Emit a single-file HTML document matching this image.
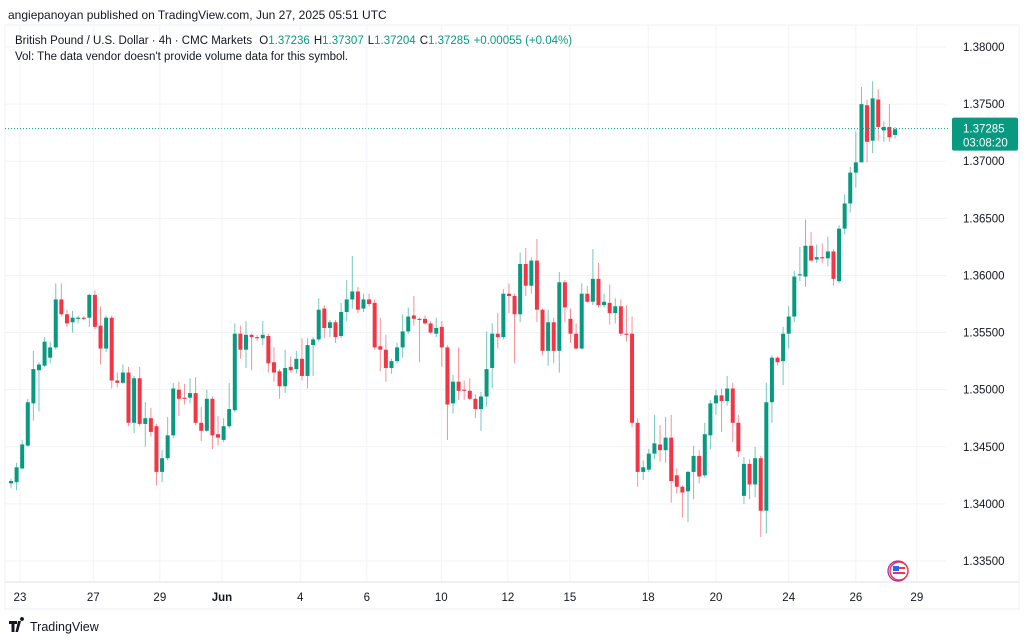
<!DOCTYPE html>
<html><head><meta charset="utf-8"><style>
html,body{margin:0;padding:0;background:#fff;}
svg{display:block;font-family:"Liberation Sans",sans-serif;}
</style></head><body>
<svg id="chart" width="1024" height="642" viewBox="0 0 1024 642">
  <text x="8" y="19" font-size="12" fill="#131722">angiepanoyan published on TradingView.com, Jun 27, 2025 05:51 UTC</text>
  <rect x="5" y="25" width="1014" height="584" fill="none" stroke="#eef0f3"/>
  <g id="grid"></g>
  <g id="candles"></g>
  <g id="axes"></g>
  <text x="15" y="44" font-size="11.5" fill="#131722">British Pound / U.S. Dollar · 4h · CMC Markets <tspan dx="4">O</tspan><tspan fill="#089981">1.37236</tspan><tspan dx="4">H</tspan><tspan fill="#089981">1.37307</tspan><tspan dx="4">L</tspan><tspan fill="#089981">1.37204</tspan><tspan dx="4">C</tspan><tspan fill="#089981">1.37285</tspan><tspan dx="4" fill="#089981">+0.00055 (+0.04%)</tspan></text>
  <text x="15" y="60" font-size="11.5" fill="#131722">Vol: The data vendor doesn't provide volume data for this symbol.</text>
  <g>
    <circle cx="898" cy="571" r="10" fill="#fff" stroke="#9c27b0" stroke-width="1.2"/>
    <circle cx="899" cy="571" r="9" fill="#fff" stroke="#f23645" stroke-width="1.5"/>
    <rect x="893" y="566" width="6" height="5" fill="#2962ff"/>
    <rect x="893" y="572" width="12" height="2" fill="#f23645"/>
    <rect x="899" y="567" width="6" height="2" fill="#f23645"/>
  </g>
  <g>
    <path d="M9 621h8v3h-2.5v8h-3v-8H9z M18 621h3l-3 11h-2.5z M22 621a2 2 0 1 1 0.01 0z" fill="#131722"/>
    <text x="30" y="631" font-size="12.5" fill="#131722">TradingView</text>
  </g>
</svg>
<script>
const opens=[1.3418,1.3419,1.3431,1.3451,1.3488,1.3517,1.3521,1.3528,1.3537,1.3579,1.3566,1.3559,1.3562,1.3563,1.3563,1.3583,1.3556,1.3536,1.3563,1.3508,1.3506,1.3515,1.3471,1.3510,1.3470,1.3475,1.3468,1.3428,1.3440,1.3460,1.3500,1.3493,1.3493,1.3497,1.3471,1.3464,1.3492,1.3461,1.3456,1.3468,1.3482,1.3549,1.3535,1.3548,1.3546,1.3545,1.3547,1.3524,1.3516,1.3503,1.3520,1.3518,1.3527,1.3512,1.3539,1.3544,1.3571,1.3554,1.3559,1.3547,1.3568,1.3579,1.3586,1.3571,1.3579,1.3576,1.3538,1.3535,1.3519,1.3525,1.3537,1.3551,1.3565,1.3562,1.3562,1.3558,1.3549,1.3555,1.3537,1.3488,1.3507,1.3500,1.3499,1.3492,1.3483,1.3494,1.3519,1.3549,1.3546,1.3584,1.3582,1.3566,1.3610,1.3591,1.3613,1.3570,1.3534,1.3559,1.3534,1.3594,1.3562,1.3549,1.3536,1.3584,1.3577,1.3597,1.3574,1.3576,1.3567,1.3573,1.3549,1.3549,1.3471,1.3428,1.3430,1.3444,1.3452,1.3447,1.3458,1.3425,1.3415,1.3411,1.3428,1.3442,1.3425,1.3460,1.3488,1.3495,1.3490,1.3501,1.3471,1.3407,1.3435,1.3417,1.3440,1.3394,1.3489,1.3528,1.3525,1.3549,1.3564,1.3600,1.3599,1.3626,1.3614,1.3616,1.3615,1.3621,1.3595,1.3641,1.3663,1.3690,1.3699,1.3749,1.3718,1.3754,1.3727,1.3730,1.3723];
const highs=[1.3422,1.3436,1.3456,1.3492,1.3534,1.3524,1.3546,1.3542,1.3593,1.3593,1.3570,1.3569,1.3565,1.3564,1.3584,1.3587,1.3573,1.3565,1.3565,1.3515,1.3522,1.3520,1.3512,1.3520,1.3489,1.3484,1.3470,1.3447,1.3476,1.3506,1.3507,1.3505,1.3510,1.3511,1.3485,1.3500,1.3494,1.3477,1.3475,1.3506,1.3558,1.3556,1.3560,1.3549,1.3548,1.3560,1.3549,1.3537,1.3518,1.3535,1.3529,1.3534,1.3545,1.3545,1.3546,1.3580,1.3574,1.3561,1.3561,1.3576,1.3596,1.3617,1.3590,1.3584,1.3584,1.3579,1.3563,1.3548,1.3527,1.3541,1.3566,1.3572,1.3582,1.3563,1.3565,1.3560,1.3563,1.3560,1.3539,1.3513,1.3537,1.3508,1.3510,1.3496,1.3498,1.3551,1.3558,1.3567,1.3588,1.3593,1.3584,1.3620,1.3624,1.3616,1.3632,1.3571,1.3570,1.3563,1.3603,1.3596,1.3571,1.3558,1.3593,1.3591,1.3623,1.3611,1.3584,1.3592,1.3580,1.3579,1.3574,1.3564,1.3475,1.3438,1.3448,1.3478,1.3469,1.3476,1.3478,1.3431,1.3416,1.3429,1.3451,1.3447,1.3471,1.3491,1.3500,1.3501,1.3512,1.3506,1.3478,1.3441,1.3439,1.3450,1.3442,1.3506,1.3530,1.3529,1.3555,1.3573,1.3604,1.3625,1.3649,1.3638,1.3627,1.3628,1.3634,1.3623,1.3644,1.3671,1.3695,1.3726,1.3765,1.3754,1.3770,1.3763,1.3735,1.3750,1.3730];
const lows=[1.3414,1.3412,1.3430,1.3450,1.3473,1.3481,1.3520,1.3523,1.3535,1.3564,1.3555,1.3550,1.3558,1.3561,1.3555,1.3553,1.3522,1.3533,1.3501,1.3502,1.3505,1.3468,1.3462,1.3468,1.3450,1.3459,1.3416,1.3419,1.3438,1.3458,1.3477,1.3487,1.3488,1.3469,1.3455,1.3463,1.3448,1.3451,1.3454,1.3466,1.3480,1.3527,1.3519,1.3517,1.3543,1.3539,1.3515,1.3507,1.3492,1.3497,1.3515,1.3514,1.3508,1.3501,1.3512,1.3542,1.3545,1.3546,1.3541,1.3545,1.3560,1.3571,1.3567,1.3568,1.3573,1.3535,1.3516,1.3507,1.3514,1.3523,1.3528,1.3549,1.3556,1.3524,1.3557,1.3549,1.3546,1.3520,1.3456,1.3479,1.3491,1.3491,1.3491,1.3475,1.3464,1.3485,1.3501,1.3536,1.3544,1.3567,1.3523,1.3559,1.3582,1.3584,1.3559,1.3530,1.3521,1.3523,1.3515,1.3559,1.3541,1.3535,1.3535,1.3576,1.3574,1.3572,1.3572,1.3557,1.3558,1.3547,1.3542,1.3467,1.3415,1.3421,1.3428,1.3439,1.3437,1.3436,1.3401,1.3409,1.3388,1.3384,1.3404,1.3418,1.3423,1.3448,1.3478,1.3463,1.3486,1.3454,1.3441,1.3400,1.3404,1.3406,1.3371,1.3374,1.3471,1.3521,1.3504,1.3536,1.3559,1.3595,1.3590,1.3612,1.3611,1.3611,1.3608,1.3591,1.3593,1.3636,1.3655,1.3677,1.3699,1.3699,1.3707,1.3718,1.3717,1.3717,1.3720];
const closes=[1.3420,1.3432,1.3452,1.3489,1.3518,1.3522,1.3542,1.3537,1.3579,1.3566,1.3558,1.3563,1.3563,1.3562,1.3583,1.3555,1.3536,1.3563,1.3508,1.3506,1.3515,1.3471,1.3510,1.3470,1.3475,1.3463,1.3428,1.3440,1.3460,1.3501,1.3492,1.3492,1.3497,1.3471,1.3464,1.3492,1.3460,1.3458,1.3468,1.3483,1.3549,1.3535,1.3548,1.3546,1.3545,1.3548,1.3523,1.3515,1.3503,1.3519,1.3517,1.3527,1.3512,1.3539,1.3544,1.3570,1.3554,1.3559,1.3546,1.3568,1.3579,1.3586,1.3570,1.3579,1.3575,1.3537,1.3535,1.3519,1.3525,1.3537,1.3551,1.3564,1.3562,1.3561,1.3558,1.3550,1.3554,1.3537,1.3487,1.3507,1.3499,1.3499,1.3492,1.3483,1.3494,1.3518,1.3549,1.3546,1.3584,1.3582,1.3566,1.3610,1.3591,1.3613,1.3570,1.3534,1.3559,1.3534,1.3594,1.3572,1.3549,1.3536,1.3584,1.3577,1.3597,1.3574,1.3577,1.3567,1.3573,1.3549,1.3548,1.3471,1.3428,1.3432,1.3444,1.3453,1.3447,1.3458,1.3420,1.3415,1.3410,1.3428,1.3442,1.3424,1.3461,1.3488,1.3495,1.3490,1.3501,1.3471,1.3446,1.3435,1.3417,1.3440,1.3394,1.3489,1.3528,1.3524,1.3549,1.3564,1.3599,1.3601,1.3626,1.3613,1.3616,1.3615,1.3621,1.3597,1.3641,1.3663,1.3690,1.3699,1.3750,1.3717,1.3755,1.3730,1.3730,1.3721,1.3728];
const priceTicks=[1.335,1.340,1.345,1.350,1.355,1.360,1.365,1.370,1.375,1.380];
const dateLabels=["23","27","29","Jun","4","6","10","12","15","18","20","24","26","29"];
const dateTickIndex=[1.6,14.7,26.6,37.7,51.7,63.6,76.9,88.8,99.9,113.9,126,139,151,161.9];
const lastPrice=1.37285;
const countdown="03:08:20";

const NS="http://www.w3.org/2000/svg";
function x(i){return 11+i*5.595;}
function y(p){return 47+(1.38-p)*11422;}
function mk(tag,attrs,parent){const e=document.createElementNS(NS,tag);for(const k in attrs)e.setAttribute(k,attrs[k]);parent.appendChild(e);return e;}
const grid=document.getElementById('grid'),cg=document.getElementById('candles'),ax=document.getElementById('axes');

priceTicks.forEach(function(p){
  const l=mk('line',{x1:5,x2:946,y1:y(p),y2:y(p),stroke:'#f0f3fa','stroke-width':1},grid);
  
  
  const t=mk('text',{x:963,y:y(p)+4,'font-size':11.5,fill:'#131722'},ax);
  t.textContent=p.toFixed(5);
  
  
});
dateTickIndex.forEach(function(idx,k){
  const l=mk('line',{x1:x(idx),x2:x(idx),y1:25,y2:582,stroke:'#f0f3fa','stroke-width':1},grid);
  
  
  const t=mk('text',{x:x(idx),y:601,'font-size':11.5,'text-anchor':'middle',fill:'#131722','font-weight':dateLabels[k]==='Jun'?'bold':'normal'},ax);
  t.textContent=dateLabels[k];
  
  
});
const base=mk('line',{x1:5,x2:1019,y1:582,y2:582,stroke:'#e0e3eb'},ax);



opens.forEach(function(o,i){
  const c=closes[i],up=c>=o,col=up?'#089981':'#f23645';
  const cx=x(i);
  const w=mk('line',{x1:cx,x2:cx,y1:y(highs[i]),y2:y(lows[i]),stroke:col,'stroke-opacity':0.55,'stroke-width':1},cg);
  
  
  const top=y(Math.max(o,c)),bot=y(Math.min(o,c));
  const b=mk('rect',{x:cx-2,y:top,width:4,height:Math.max(1,bot-top),fill:col},cg);
  
  
});

const ly=y(lastPrice);
const pl=mk('line',{x1:5,x2:950,y1:ly,y2:ly,stroke:'#089981','stroke-dasharray':'1 2','stroke-width':1},ax);


const tag=mk('rect',{x:952,y:ly-11,width:66,height:33,rx:2,fill:'#089981'},ax);


const t1=mk('text',{x:963,y:ly+4,'font-size':11.5,fill:'#fff'},ax);
t1.textContent=lastPrice.toFixed(5);


const t2=mk('text',{x:963,y:ly+18,'font-size':11.5,fill:'#fff'},ax);
t2.textContent=countdown;


</script>
</body></html>
